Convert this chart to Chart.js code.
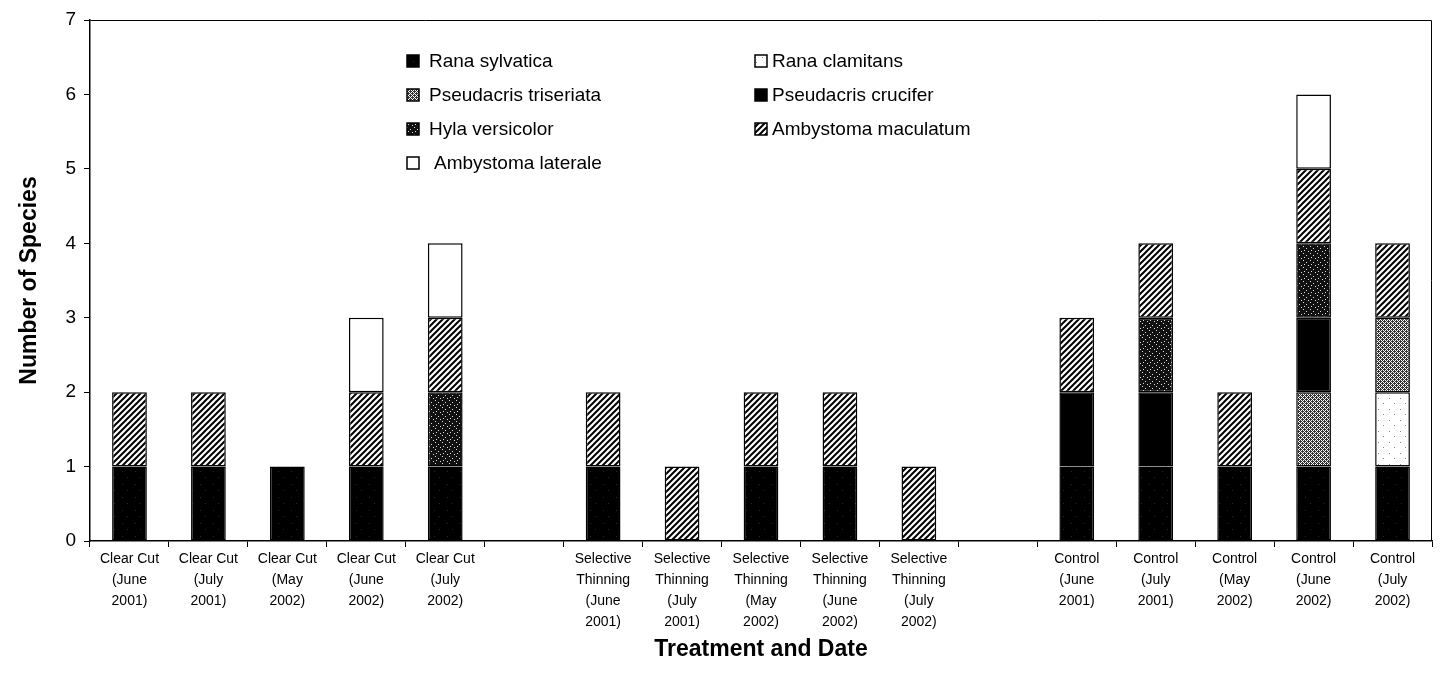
<!DOCTYPE html>
<html>
<head>
<meta charset="utf-8">
<script src="https://cdn.jsdelivr.net/npm/chart.js@4/dist/chart.umd.min.js"></script>
<style>
  html, body { margin: 0; padding: 0; background: #fff; }
  #wrap { width: 1441px; height: 687px; position: relative; }
</style>
</head>
<body>
<div id="wrap"><canvas id="c" width="1441" height="687"></canvas></div>
<script>
// ---- data ----
const categories = [
  ['Clear Cut', '(June', '2001)'],
  ['Clear Cut', '(July', '2001)'],
  ['Clear Cut', '(May', '2002)'],
  ['Clear Cut', '(June', '2002)'],
  ['Clear Cut', '(July', '2002)'],
  '',
  ['Selective', 'Thinning', '(June', '2001)'],
  ['Selective', 'Thinning', '(July', '2001)'],
  ['Selective', 'Thinning', '(May', '2002)'],
  ['Selective', 'Thinning', '(June', '2002)'],
  ['Selective', 'Thinning', '(July', '2002)'],
  '',
  ['Control', '(June', '2001)'],
  ['Control', '(July', '2001)'],
  ['Control', '(May', '2002)'],
  ['Control', '(June', '2002)'],
  ['Control', '(July', '2002)']
];
const ranaSylvatica        = [1, 1, 1, 1, 1, null, 1, null, 1, 1, null, null, 1, 1, 1, 1, 1];
const ranaClamitans        = [null, null, null, null, null, null, null, null, null, null, null, null, null, null, null, null, 1];
const pseudacrisTriseriata = [null, null, null, null, null, null, null, null, null, null, null, null, null, null, null, 1, 1];
const pseudacrisCrucifer   = [null, null, null, null, null, null, null, null, null, null, null, null, 1, 1, null, 1, null];
const hylaVersicolor       = [null, null, null, null, 1, null, null, null, null, null, null, null, null, 1, null, 1, null];
const ambystomaMaculatum   = [1, 1, null, 1, 1, null, 1, 1, 1, 1, 1, null, 1, 1, 1, 1, 1];
const ambystomaLaterale    = [null, null, null, 1, 1, null, null, null, null, null, null, null, null, null, null, 1, null];
const yTicks = [0, 1, 2, 3, 4, 5, 6, 7];

// ---- patterns ----
function mkPattern(size, draw) {
  const cv = document.createElement('canvas');
  cv.width = size; cv.height = size;
  const g = cv.getContext('2d');
  draw(g, size);
  return document.getElementById('c').getContext('2d').createPattern(cv, 'repeat');
}
const patSylvatica = mkPattern(13, (g, s) => {
  g.fillStyle = '#000'; g.fillRect(0, 0, s, s);
  g.fillStyle = '#2a2a2a'; g.fillRect(5, 3, 1, 1); g.fillRect(10, 9, 1, 1);
});
const patClamitans = mkPattern(11, (g, s) => {
  g.fillStyle = '#fff'; g.fillRect(0, 0, s, s);
  g.fillStyle = '#888'; g.fillRect(3, 2, 1, 1); g.fillRect(8, 7, 1, 1);
});
const patTriseriata = mkPattern(4, (g, s) => {
  g.fillStyle = '#fff'; g.fillRect(0, 0, s, s);
  g.fillStyle = '#333';
  g.fillRect(0, 0, 1, 1); g.fillRect(2, 0, 1, 1);
  g.fillRect(1, 1, 1, 1); g.fillRect(3, 1, 1, 1);
  g.fillRect(0, 2, 1, 1); g.fillRect(2, 2, 1, 1);
  g.fillRect(3, 3, 1, 1); g.fillRect(1, 3, 1, 1);
  g.fillRect(0, 1, 1, 1); g.fillRect(2, 3, 1, 1);
});
const patHyla = mkPattern(7, (g, s) => {
  g.fillStyle = '#111'; g.fillRect(0, 0, s, s);
  g.fillStyle = '#ddd';
  g.fillRect(1, 1, 1, 1); g.fillRect(4, 3, 1, 1); g.fillRect(2, 5, 1, 1); g.fillRect(6, 6, 1, 1);
});
const patHatch = mkPattern(6, (g, s) => {
  g.fillStyle = '#fff'; g.fillRect(0, 0, s, s);
  g.strokeStyle = '#000'; g.lineWidth = 2;
  g.beginPath();
  g.moveTo(-1, s + 1); g.lineTo(s + 1, -1);
  g.moveTo(-1, 1); g.lineTo(1, -1);
  g.moveTo(s - 1, s + 1); g.lineTo(s + 1, s - 1);
  g.stroke();
});

const FONT = "'Liberation Sans', Arial, Helvetica, sans-serif";

const datasets = [
  { label: 'Rana sylvatica', data: ranaSylvatica, backgroundColor: patSylvatica },
  { label: 'Rana clamitans', data: ranaClamitans, backgroundColor: patClamitans },
  { label: 'Pseudacris triseriata', data: pseudacrisTriseriata, backgroundColor: patTriseriata },
  { label: 'Pseudacris crucifer', data: pseudacrisCrucifer, backgroundColor: '#000' },
  { label: 'Hyla versicolor', data: hylaVersicolor, backgroundColor: patHyla },
  { label: 'Ambystoma maculatum', data: ambystomaMaculatum, backgroundColor: patHatch },
  { label: 'Ambystoma laterale', data: ambystomaLaterale, backgroundColor: '#fff' }
].map(d => Object.assign(d, {
  borderColor: '#000', borderWidth: 1.5, borderSkipped: false,
  barPercentage: 0.44, categoryPercentage: 1.0
}));

// legend drawn inside plot area (two columns, row-major)
const legendPos = [
  { bx: 407, tx: 429, y: 61 },
  { bx: 755, tx: 772, y: 61 },
  { bx: 407, tx: 429, y: 95 },
  { bx: 755, tx: 772, y: 95 },
  { bx: 407, tx: 429, y: 129 },
  { bx: 755, tx: 772, y: 129 },
  { bx: 407, tx: 434, y: 163 }
];
const innerLegend = {
  id: 'innerLegend',
  afterDraw(chart) {
    const ctx = chart.ctx;
    ctx.save();
    chart.data.datasets.forEach((ds, i) => {
      const p = legendPos[i];
      ctx.fillStyle = ds.backgroundColor;
      ctx.fillRect(p.bx, p.y - 6, 12, 12);
      ctx.strokeStyle = '#000'; ctx.lineWidth = 1.5;
      ctx.strokeRect(p.bx, p.y - 6, 12, 12);
      ctx.fillStyle = '#000';
      ctx.font = '19px ' + FONT;
      ctx.textBaseline = 'middle';
      ctx.textAlign = 'left';
      ctx.fillText(ds.label, p.tx, p.y + 1);
    });
    ctx.restore();
  }
};
const frame = {
  id: 'frame',
  afterDraw(chart) {
    const a = chart.chartArea, ctx = chart.ctx;
    ctx.save();
    ctx.strokeStyle = '#000'; ctx.lineWidth = 1;
    ctx.beginPath();
    ctx.moveTo(Math.round(a.left) + 0.5, Math.round(a.top) + 0.5);
    ctx.lineTo(Math.round(a.right) - 0.5, Math.round(a.top) + 0.5);
    ctx.lineTo(Math.round(a.right) - 0.5, Math.round(a.bottom));
    ctx.stroke();
    ctx.restore();
  }
};

new Chart(document.getElementById('c'), {
  type: 'bar',
  data: { labels: categories, datasets },
  options: {
    responsive: false,
    animation: false,
    layout: { padding: { left: 0, right: 9, top: 20, bottom: 24 } },
    plugins: { legend: { display: false }, tooltip: { enabled: false } },
    scales: {
      x: {
        stacked: true,
        grid: { display: true, drawOnChartArea: false, color: '#000', tickLength: 6, offset: true },
        border: { color: '#000', width: 1.5 },
        ticks: { color: '#000', font: { family: FONT, size: 14, lineHeight: 1.5 }, maxRotation: 0, autoSkip: false, padding: 2 },
        title: { display: true, text: 'Treatment and Date', color: '#000', font: { family: FONT, size: 23, weight: 'bold' }, padding: 0 },
        afterFit(s) { s.height = 122; }
      },
      y: {
        stacked: true,
        min: 0, max: 7,
        afterBuildTicks(s) { s.ticks = yTicks.map(v => ({ value: v })); },
        grid: { display: true, drawOnChartArea: false, color: '#000', tickLength: 6 },
        border: { color: '#000', width: 1.5 },
        ticks: { color: '#000', font: { family: FONT, size: 19 }, padding: 8 },
        title: { display: true, text: 'Number of Species', color: '#000', font: { family: FONT, size: 23, weight: 'bold' }, padding: { top: 16, bottom: 0 } },
        afterFit(s) { s.width = 90; }
      }
    }
  },
  plugins: [innerLegend, frame]
});
</script>
</body>
</html>
